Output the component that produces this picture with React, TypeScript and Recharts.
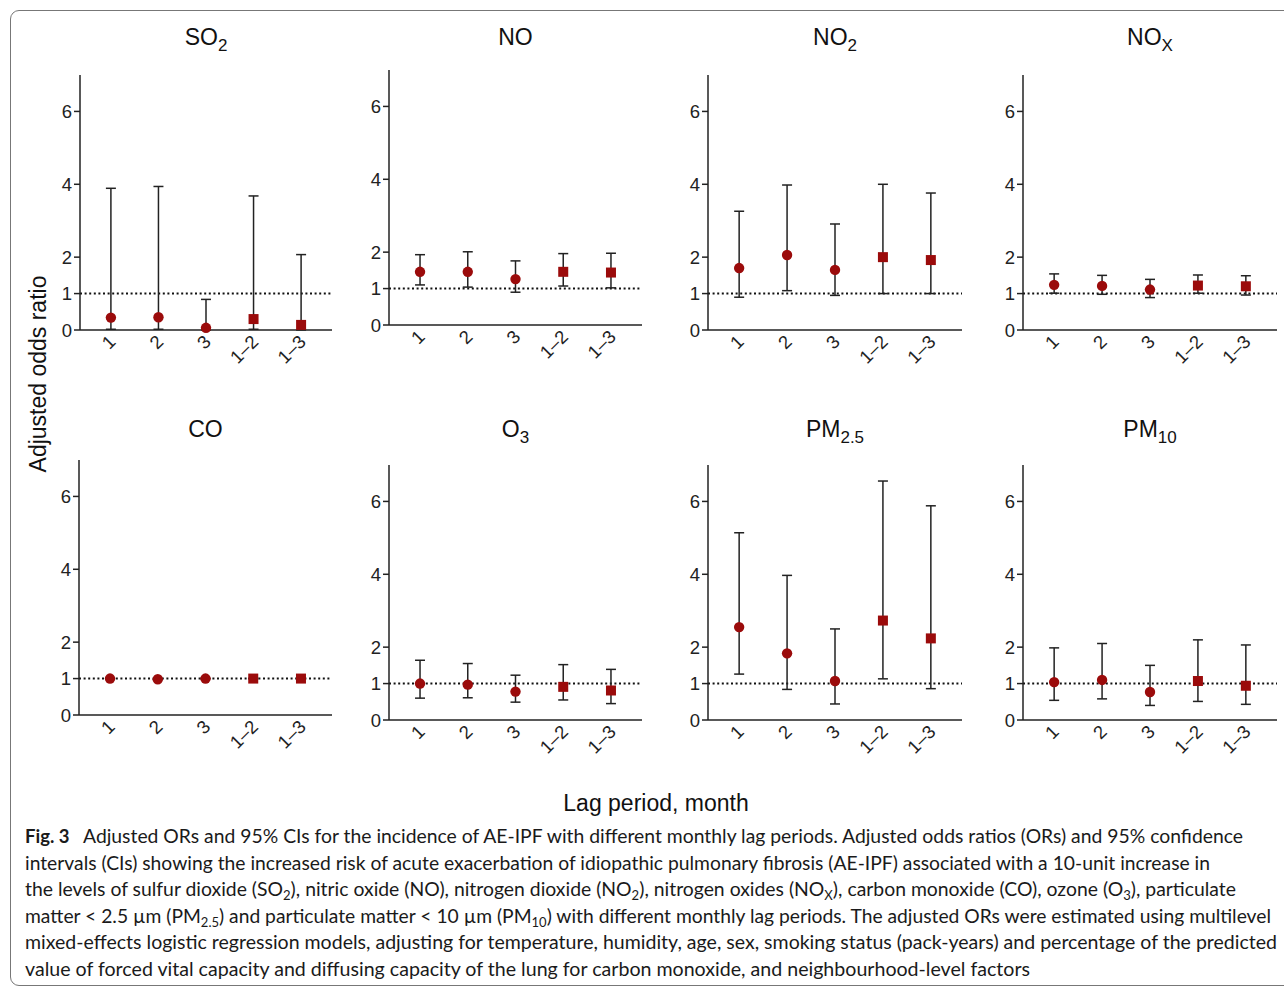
import React from 'react'
import { ComposedChart, Scatter, ErrorBar, XAxis, YAxis, ReferenceLine } from 'recharts'

const LAGS = ['1', '2', '3', '1–2', '1–3']
const SQUARE = [false, false, false, true, true]
const Y_TICKS = [0, 1, 2, 4, 6]

const OR_SO2 = [0.34, 0.35, 0.06, 0.3, 0.14]
const LO_SO2 = [0.02, 0.02, 0.0, 0.02, 0.0]
const HI_SO2 = [3.89, 3.94, 0.84, 3.68, 2.07]

const OR_NO = [1.46, 1.46, 1.26, 1.46, 1.44]
const LO_NO = [1.1, 1.04, 0.9, 1.07, 1.02]
const HI_NO = [1.93, 2.01, 1.76, 1.96, 1.97]

const OR_NO2 = [1.7, 2.06, 1.65, 2.0, 1.92]
const LO_NO2 = [0.9, 1.08, 0.95, 1.0, 1.0]
const HI_NO2 = [3.26, 3.98, 2.91, 4.0, 3.76]

const OR_NOX = [1.24, 1.21, 1.11, 1.22, 1.2]
const LO_NOX = [1.01, 0.98, 0.89, 1.01, 0.96]
const HI_NOX = [1.54, 1.5, 1.39, 1.51, 1.49]

const OR_CO = [1.0, 0.98, 1.0, 1.0, 1.0]
const LO_CO = [0.99, 0.97, 0.99, 0.99, 0.99]
const HI_CO = [1.01, 0.99, 1.01, 1.01, 1.01]

const OR_O3 = [1.0, 0.97, 0.78, 0.91, 0.81]
const LO_O3 = [0.6, 0.61, 0.49, 0.55, 0.45]
const HI_O3 = [1.64, 1.55, 1.23, 1.52, 1.39]

const OR_PM25 = [2.55, 1.83, 1.07, 2.73, 2.24]
const LO_PM25 = [1.26, 0.84, 0.44, 1.13, 0.86]
const HI_PM25 = [5.14, 3.97, 2.5, 6.56, 5.88]

const OR_PM10 = [1.04, 1.1, 0.77, 1.07, 0.94]
const LO_PM10 = [0.54, 0.58, 0.4, 0.51, 0.43]
const HI_PM10 = [1.98, 2.1, 1.5, 2.2, 2.06]

// caption lines, {sub} marks a subscript
type Seg = string | { sub: string }
const CAPTION: { segs: Seg[]; len: number }[] = [
  { segs: ['Adjusted ORs and 95% CIs for the incidence of AE-IPF with different monthly lag periods. Adjusted odds ratios (ORs) and 95% confidence'], len: 1160 },
  { segs: ['intervals (CIs) showing the increased risk of acute exacerbation of idiopathic pulmonary fibrosis (AE-IPF) associated with a 10-unit increase in'], len: 1185 },
  {
    segs: ['the levels of sulfur dioxide (SO', { sub: '2' }, '), nitric oxide (NO), nitrogen dioxide (NO', { sub: '2' }, '), nitrogen oxides (NO', { sub: 'X' }, '), carbon monoxide (CO), ozone (O', { sub: '3' }, '), particulate'],
    len: 1211,
  },
  {
    segs: ['matter < 2.5 µm (PM', { sub: '2.5' }, ') and particulate matter < 10 µm (PM', { sub: '10' }, ') with different monthly lag periods. The adjusted ORs were estimated using multilevel'],
    len: 1246,
  },
  { segs: ['mixed-effects logistic regression models, adjusting for temperature, humidity, age, sex, smoking status (pack-years) and percentage of the predicted'], len: 1252 },
  { segs: ['value of forced vital capacity and diffusing capacity of the lung for carbon monoxide, and neighbourhood-level factors'], len: 1005 },
]

const FONT = '"Liberation Sans", Arial, Helvetica, sans-serif'
const RED = '#9b0b0b'
const INK = '#222'
const PLOT_H = 255

const rows = (or: number[], lo: number[], hi: number[]) =>
  or.map((v, i) => ({ x: i + 1, or: v, err: [v - lo[i], hi[i] - v], sq: SQUARE[i] }))

const Sub = ({ children }: { children: React.ReactNode }) => (
  <span style={{ fontSize: 17, position: 'relative', top: 6 }}>{children}</span>
)

// plot-area placement of each small panel (page px)
const PANELS = [
  { id: 'so2', title: <>SO<Sub>2</Sub></>, data: rows(OR_SO2, LO_SO2, HI_SO2), left: 80, zero: 330, w: 252 },
  { id: 'no', title: <>NO</>, data: rows(OR_NO, LO_NO, HI_NO), left: 389, zero: 325, w: 253 },
  { id: 'no2', title: <>NO<Sub>2</Sub></>, data: rows(OR_NO2, LO_NO2, HI_NO2), left: 708, zero: 330, w: 254 },
  { id: 'nox', title: <>NO<Sub>X</Sub></>, data: rows(OR_NOX, LO_NOX, HI_NOX), left: 1023, zero: 330, w: 254 },
  { id: 'co', title: <>CO</>, data: rows(OR_CO, LO_CO, HI_CO), left: 79, zero: 715, w: 253 },
  { id: 'o3', title: <>O<Sub>3</Sub></>, data: rows(OR_O3, LO_O3, HI_O3), left: 389, zero: 720, w: 253 },
  { id: 'pm25', title: <>PM<Sub>2.5</Sub></>, data: rows(OR_PM25, LO_PM25, HI_PM25), left: 708, zero: 720, w: 254 },
  { id: 'pm10', title: <>PM<Sub>10</Sub></>, data: rows(OR_PM10, LO_PM10, HI_PM10), left: 1023, zero: 720, w: 254 },
]

const XTick = (props: any) => {
  const { x, y, payload } = props
  return (
    <g transform={`translate(${x + 6},${y + 13})`}>
      <text transform="rotate(-45)" textAnchor="end" fontSize={18.5} fill={INK} fontFamily={FONT}>
        {LAGS[payload.value - 1]}
      </text>
    </g>
  )
}

const YTick = (props: any) => {
  const { x, y, payload } = props
  return (
    <text x={x} y={y} dy={6.5} textAnchor="end" fontSize={18.5} fill={INK} fontFamily={FONT}>
      {payload.value}
    </text>
  )
}

const Marker = (props: any) => {
  const { cx, cy, payload } = props
  if (cx == null || cy == null) return <g />
  if (payload.sq) return <rect x={cx - 5} y={cy - 5} width={10} height={10} fill={RED} />
  return <circle cx={cx} cy={cy} r={5.2} fill={RED} />
}

const Nothing = () => <g />

function Panel({ p }: { p: (typeof PANELS)[number] }) {
  const width = 50 + p.w + 6
  const height = 5 + PLOT_H + 50
  const top = p.zero - PLOT_H - 5
  return (
    <div style={{ position: 'absolute', left: p.left - 50, top }}>
      <ComposedChart width={width} height={height} data={p.data} margin={{ top: 5, right: 6, bottom: 0, left: 0 }}>
        <XAxis
          dataKey="x"
          type="number"
          domain={[0.35, 5.65]}
          ticks={[1, 2, 3, 4, 5]}
          allowDataOverflow
          height={50}
          tickLine={false}
          tickSize={0}
          tickMargin={0}
          tick={<XTick />}
          axisLine={{ stroke: INK, strokeWidth: 1.5 }}
        />
        <YAxis
          type="number"
          domain={[0, 7]}
          ticks={Y_TICKS}
          width={50}
          tickSize={6}
          tickMargin={2}
          tickLine={{ stroke: INK, strokeWidth: 1.5 }}
          axisLine={{ stroke: INK, strokeWidth: 1.5 }}
          tick={<YTick />}
        />
        <ReferenceLine y={1} stroke="#111" strokeWidth={2} strokeDasharray="2 2.6" />
        <Scatter dataKey="or" shape={<Nothing />} isAnimationActive={false}>
          <ErrorBar dataKey="err" direction="y" width={5} stroke={INK} strokeWidth={1.5} isAnimationActive={false} />
        </Scatter>
        <Scatter dataKey="or" shape={<Marker />} isAnimationActive={false} />
      </ComposedChart>
      <div
        style={{
          position: 'absolute',
          left: 50 + p.w / 2,
          top: (p.zero < 500 ? 25 : 417) - top,
          transform: 'translateX(-50%)',
          fontSize: 23,
          lineHeight: '24px',
          whiteSpace: 'nowrap',
          fontFamily: FONT,
          color: '#111',
        }}
      >
        {p.title}
      </div>
    </div>
  )
}

const CAP = { fontSize: 18.5, fontFamily: 'Lato, "Open Sans", sans-serif', fill: '#1a1a1a' }

function CaptionLine({ segs, prefix }: { segs: Seg[]; prefix?: boolean }) {
  return (
    <>
      {segs.map((s, i) => {
        if (typeof s === 'string') {
          const afterSub = i > 0 && typeof segs[i - 1] !== 'string'
          return (
            <tspan key={i} dy={afterSub ? -4 : undefined} dx={prefix && i === 0 ? 8 : undefined}>
              {s}
            </tspan>
          )
        }
        return (
          <tspan key={i} dy={4} fontSize={12.5}>
            {s.sub}
          </tspan>
        )
      })}
    </>
  )
}

function Caption() {
  const x = 25
  const base = 843
  const step = 26.6
  return (
    <svg width={1284} height={167} style={{ position: 'absolute', left: 0, top: 820 }} viewBox="0 820 1284 167">
      <text x={x} y={base} {...CAP} fontWeight="bold">
        Fig. 3
      </text>
      {CAPTION.map((line, i) => (
        <text
          key={i}
          x={i === 0 ? 83 : x}
          y={base + step * i}
          {...CAP}
          textLength={line.len}
          lengthAdjust="spacingAndGlyphs"
        >
          <CaptionLine segs={line.segs} />
        </text>
      ))}
    </svg>
  )
}

export default function App() {
  return (
    <div style={{ position: 'absolute', left: 0, top: 0, width: 1284, height: 987, overflow: 'hidden', background: '#fff' }}>
      <div
        style={{
          position: 'absolute',
          left: 10,
          top: 10,
          width: 1300,
          height: 974,
          border: '1.3px solid #777',
          borderRadius: 9,
        }}
      />
      {PANELS.map(p => (
        <Panel key={p.id} p={p} />
      ))}
      <div
        style={{
          position: 'absolute',
          left: 38,
          top: 374,
          transform: 'translate(-50%, -50%) rotate(-90deg)',
          fontSize: 23,
          fontFamily: FONT,
          whiteSpace: 'nowrap',
          color: '#111',
        }}
      >
        Adjusted odds ratio
      </div>
      <div
        style={{
          position: 'absolute',
          left: 656,
          top: 803,
          transform: 'translate(-50%, -50%)',
          fontSize: 23,
          fontFamily: FONT,
          whiteSpace: 'nowrap',
          color: '#111',
        }}
      >
        Lag period, month
      </div>
      <Caption />
    </div>
  )
}
